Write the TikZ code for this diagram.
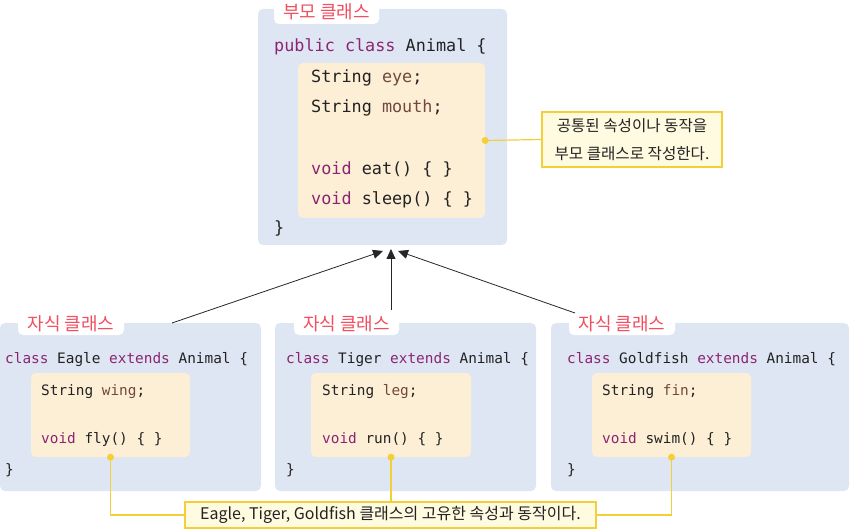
\documentclass[tikz,border=0pt]{standalone}
\usepackage{fontspec}
\setmonofont{DejaVu Sans Mono}
\newfontfamily\kor{Noto Sans CJK KR}
\usetikzlibrary{arrows.meta}

\definecolor{boxblue}{RGB}{223,230,243}
\definecolor{boxcream}{RGB}{253,239,214}
\definecolor{kwpurple}{RGB}{139,37,115}
\definecolor{fieldbrown}{RGB}{112,72,62}
\definecolor{tabred}{RGB}{242,78,96}
\definecolor{notefill}{RGB}{255,251,225}
\definecolor{noteline}{RGB}{244,207,58}
\definecolor{codeink}{RGB}{34,34,34}

\newcommand{\kwcol}[1]{\textcolor{kwpurple}{#1}}
\newcommand{\fieldcol}[1]{\textcolor{fieldbrown}{#1}}

\begin{document}
\begin{tikzpicture}[x=1pt, y=-1pt,
  outerbox/.style={fill=boxblue, rounded corners=5pt, inner sep=0},
  innerbox/.style={fill=boxcream, rounded corners=5pt, inner sep=0},
  tabbox/.style={fill=white, rounded corners=5pt, inner sep=0, minimum height=22,
    text=tabred, font=\kor\fontsize{18}{20}\selectfont},
  bigcode/.style={anchor=base west, inner sep=0, text=codeink,
    font=\ttfamily\fontsize{16.8}{20}\selectfont},
  smallcode/.style={anchor=base west, inner sep=0, text=codeink,
    font=\ttfamily\fontsize{14.4}{17}\selectfont},
  notebox/.style={draw=noteline, line width=1.2pt, fill=notefill, inner sep=0,
    text=codeink, align=center},
  noteleg/.style={draw=noteline, line width=1.2pt},
  notedot/.style={fill=noteline, circle, inner sep=0, minimum size=7},
  inherit/.style={draw=black!85, line width=0.8pt, -{Triangle[length=10pt,width=9pt]}}]

\useasboundingbox (0,0) rectangle (851,529);

% parent class
\node [outerbox, minimum width=249, minimum height=236] (parent) at (382.5,127) {};
\node [innerbox, minimum width=187, minimum height=155] (parentIn) at (391.5,140.5) {};
\node [tabbox, minimum width=105, minimum height=24] (parentTab) at (326.5,12) {부모 클래스};

\node [bigcode] (p1) at (274,52) {\kwcol{public} \kwcol{class} Animal \{};
\node [bigcode] (p2) at (311,83) {String \fieldcol{eye};};
\node [bigcode] (p3) at (311,113) {String \fieldcol{mouth};};
\node [bigcode] (p4) at (311,175) {\kwcol{void} eat() \{ \}};
\node [bigcode] (p5) at (311,205) {\kwcol{void} sleep() \{ \}};
\node [bigcode] (p6) at (274,234) {\}};

% child classes
\node [outerbox, minimum width=261, minimum height=168] (eagle) at (130.5,407) {};
\node [innerbox, minimum width=159, minimum height=84] (eagleIn) at (110.5,415) {};
\node [tabbox, minimum width=106] (eagleTab) at (71,324) {자식 클래스};

\node [outerbox, minimum width=261, minimum height=168] (tiger) at (405.5,407) {};
\node [innerbox, minimum width=160, minimum height=84] (tigerIn) at (391,415) {};
\node [tabbox, minimum width=105] (tigerTab) at (346.5,324) {자식 클래스};

\node [outerbox, minimum width=298, minimum height=168] (goldfish) at (700,407) {};
\node [innerbox, minimum width=159, minimum height=84] (goldfishIn) at (671.5,415) {};
\node [tabbox, minimum width=106] (goldfishTab) at (622,324) {자식 클래스};

\node [smallcode] (e1) at (5,363) {\kwcol{class} Eagle \kwcol{extends} Animal \{};
\node [smallcode] (e2) at (41,395) {String \fieldcol{wing};};
\node [smallcode] (e3) at (41,443) {\kwcol{void} fly() \{ \}};
\node [smallcode] (e4) at (5,474) {\}};

\node [smallcode] (t1) at (286,363) {\kwcol{class} Tiger \kwcol{extends} Animal \{};
\node [smallcode] (t2) at (322,395) {String \fieldcol{leg};};
\node [smallcode] (t3) at (322,443) {\kwcol{void} run() \{ \}};
\node [smallcode] (t4) at (286,474) {\}};

\node [smallcode] (g1) at (567,363) {\kwcol{class} Goldfish \kwcol{extends} Animal \{};
\node [smallcode] (g2) at (602,395) {String \fieldcol{fin};};
\node [smallcode] (g3) at (602,443) {\kwcol{void} swim() \{ \}};
\node [smallcode] (g4) at (567,474) {\}};

% inheritance arrows
\coordinate (eagleFoot) at (172,323);
\coordinate (tigerFoot) at (391,310);
\coordinate (goldfishFoot) at (575,313);
\coordinate (eagleTip) at (383,251);
\coordinate (tigerTip) at (391,249);
\coordinate (goldfishTip) at (398,251);

\draw [inherit] (eagleFoot) -- (eagleTip);
\draw [inherit] (tigerFoot) -- (tigerTip);
\draw [inherit] (goldfishFoot) -- (goldfishTip);

% notes
\node [notebox, minimum width=180, minimum height=55,
  font=\kor\fontsize{15.6}{28}\selectfont] (topNote) at (632,139.5)
  {공통된 속성이나 동작을\\부모 클래스로 작성한다.};
\node [notebox, minimum width=411, minimum height=26,
  font=\kor\fontsize{16}{18}\selectfont] (bottomNote) at (390.5,515)
  {Eagle, Tiger, Goldfish 클래스의 고유한 속성과 동작이다.};

\draw [noteleg] (parentIn.east) -- (topNote.west);
\draw [noteleg] (eagleIn.south) |- (bottomNote.west);
\draw [noteleg] (tigerIn.south) -- (tigerIn.south |- bottomNote.north);
\draw [noteleg] (goldfishIn.south) |- (bottomNote.east);

\node [notedot] (parentDot) at (parentIn.east) {};
\node [notedot] (eagleDot) at (eagleIn.south) {};
\node [notedot] (tigerDot) at (tigerIn.south) {};
\node [notedot] (goldfishDot) at (goldfishIn.south) {};

\end{tikzpicture}
\end{document}
